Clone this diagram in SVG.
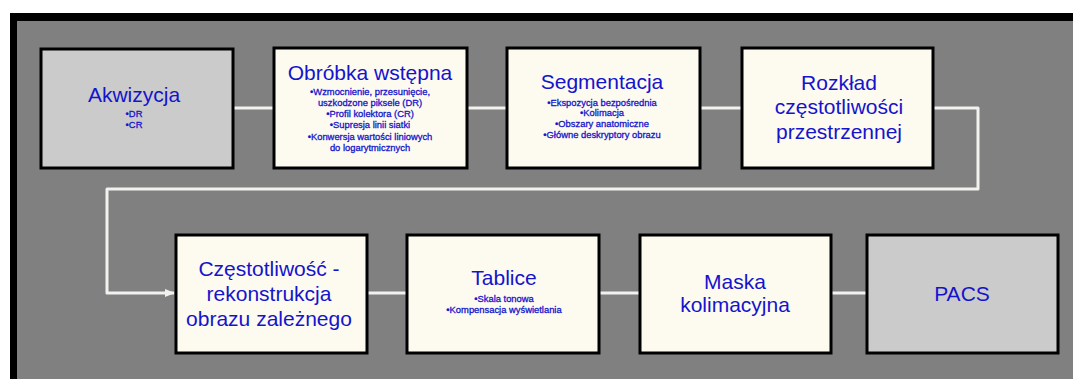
<svg xmlns="http://www.w3.org/2000/svg" width="1073" height="379" viewBox="0 0 1073 379">
<style>
.box{stroke:#000;stroke-width:3}
.cream{fill:#fdfaf0}
.gray{fill:#cbcbcb}
.t{font-family:"Liberation Sans",Arial,sans-serif;fill:#1414cc;text-anchor:middle}
.h{font-size:21px}
.b{font-size:9.4px;stroke:#1414cc;stroke-width:0.3}
.c{fill:none;stroke:#f2f2ee;stroke-width:3;stroke-linejoin:round}
</style>
<defs>
<marker id="arr" markerWidth="10" markerHeight="10" refX="9" refY="5" orient="auto" markerUnits="userSpaceOnUse">
<path d="M0,1 L10,5 L0,9 Z" fill="#f2f2ee"/>
</marker>
</defs>
<rect x="0" y="0" width="1073" height="379" fill="#fff"/>
<rect x="10" y="13" width="1063" height="366" fill="#000"/>
<rect x="17" y="21" width="1056" height="358" fill="#808080"/>
<g id="connectors">
<line class="c" x1="233" y1="108" x2="274" y2="108"/>
<line class="c" x1="467" y1="108" x2="507" y2="108"/>
<line class="c" x1="700" y1="108" x2="742" y2="108"/>
<path class="c" d="M933,108 H978 V189 H107 V293 H174" marker-end="url(#arr)"/>
<line class="c" x1="367" y1="293" x2="407" y2="293"/>
<line class="c" x1="599" y1="293" x2="640" y2="293"/>
<line class="c" x1="831" y1="293" x2="867" y2="293"/>
</g>
<g id="akwizycja">
<rect class="box gray" x="41" y="49" width="192" height="119"/>
<text class="t h" x="134" y="102">Akwizycja</text>
<text class="t b" x="134" y="117">•DR</text>
<text class="t b" x="134" y="128">•CR</text>
</g>
<g id="obrobka">
<rect class="box cream" x="274" y="48" width="193" height="120"/>
<text class="t h" x="370" y="80">Obróbka wstępna</text>
<text class="t b" x="370" y="95">•Wzmocnienie, przesunięcie,</text>
<text class="t b" x="370" y="106">uszkodzone piksele (DR)</text>
<text class="t b" x="370" y="117">•Profil kolektora (CR)</text>
<text class="t b" x="370" y="128">•Supresja linii siatki</text>
<text class="t b" x="370" y="140">•Konwersja wartości liniowych</text>
<text class="t b" x="370" y="151">do logarytmicznych</text>
</g>
<g id="segmentacja">
<rect class="box cream" x="507" y="48" width="193" height="120"/>
<text class="t h" x="602" y="89">Segmentacja</text>
<text class="t b" x="602" y="106">•Ekspozycja bezpośrednia</text>
<text class="t b" x="602" y="116">•Kolimacja</text>
<text class="t b" x="602" y="127">•Obszary anatomiczne</text>
<text class="t b" x="602" y="138">•Główne deskryptory obrazu</text>
</g>
<g id="rozklad">
<rect class="box cream" x="742" y="48" width="191" height="120"/>
<text class="t h" x="839" y="90">Rozkład</text>
<text class="t h" x="839" y="114">częstotliwości</text>
<text class="t h" x="839" y="139">przestrzennej</text>
</g>
<g id="czestotliwosc">
<rect class="box cream" x="176" y="235" width="191" height="118"/>
<text class="t h" x="269" y="276">Częstotliwość -</text>
<text class="t h" x="269" y="301">rekonstrukcja</text>
<text class="t h" x="269" y="326">obrazu zależnego</text>
</g>
<g id="tablice">
<rect class="box cream" x="407" y="235" width="192" height="118"/>
<text class="t h" x="504" y="285">Tablice</text>
<text class="t b" x="504" y="302">•Skala tonowa</text>
<text class="t b" x="504" y="313">•Kompensacja wyświetlania</text>
</g>
<g id="maska">
<rect class="box cream" x="640" y="235" width="191" height="118"/>
<text class="t h" x="735" y="289">Maska</text>
<text class="t h" x="735" y="312">kolimacyjna</text>
</g>
<g id="pacs">
<rect class="box gray" x="867" y="235" width="191" height="118"/>
<text class="t h" x="962" y="301">PACS</text>
</g>
</svg>
